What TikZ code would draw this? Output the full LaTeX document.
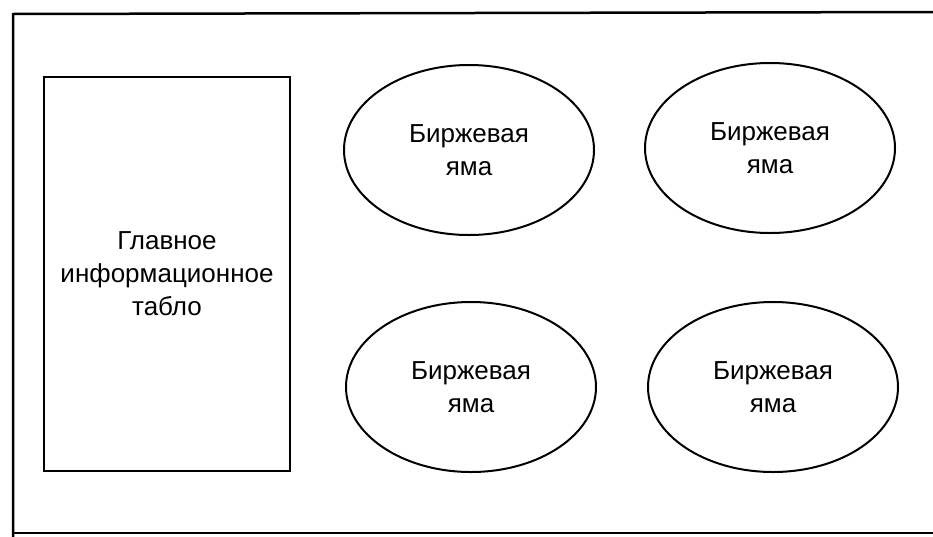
\documentclass[tikz,border=0pt]{standalone}
\usepackage{fontspec}
\setmainfont{Liberation Sans}
\usetikzlibrary{shapes.geometric}
\begin{document}
\begin{tikzpicture}[x=1pt,y=-1pt,
  line width=2pt,
  pit/.style={draw, ellipse, minimum width=250pt, minimum height=170pt, inner sep=0pt, align=center, font=\fontsize{26}{33}\selectfont},
  board/.style={draw, rectangle, minimum width=246pt, minimum height=394pt, inner sep=0pt, align=center, font=\fontsize{26}{33}\selectfont}]
\useasboundingbox (0,0) rectangle (933,536);
\coordinate (tl) at (13,14);
\coordinate (tr) at (935,12);
\coordinate (bl) at (13,538);
\coordinate (bb) at (13,533);
\coordinate (br) at (935,533);
\draw[line width=2.5pt] (bl) -- (tl) -- (tr);
\draw[line width=2.5pt] (bb) -- (br);
\node[board] (tablo) at (167,274) {Главное\\информационное\\табло};
\node[pit] (p1) at (469,150) {Биржевая\\яма};
\node[pit] (p2) at (770,148) {Биржевая\\яма};
\node[pit] (p3) at (471,387) {Биржевая\\яма};
\node[pit] (p4) at (773,387) {Биржевая\\яма};
\end{tikzpicture}
\end{document}
